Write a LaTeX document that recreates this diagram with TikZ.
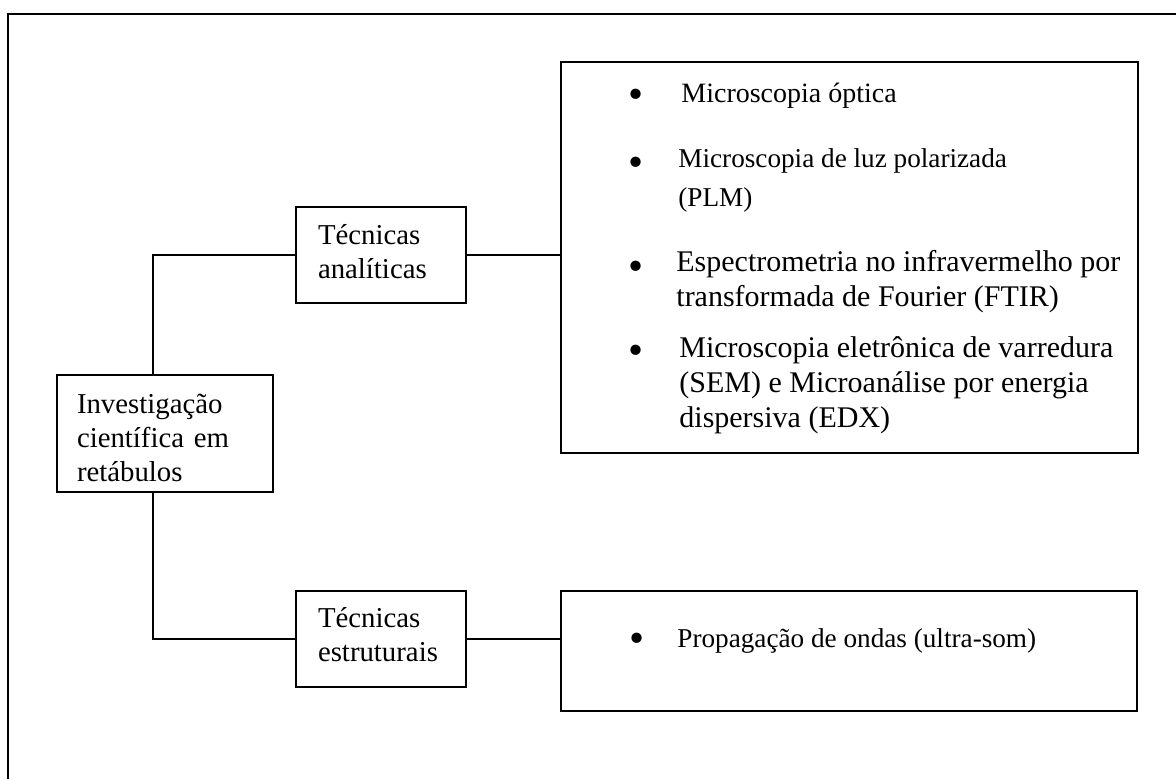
\documentclass[tikz,border=0pt]{standalone}
\usepackage{fontspec}
\setmainfont{Liberation Serif}
\usetikzlibrary{positioning,calc}

\tikzset{
  box/.style={draw,line width=1pt,inner sep=0pt},
  boxtxt/.style={box,align=left,inner ysep=0pt,font=\fontsize{14.4}{17}\selectfont},
  itm/.style={align=left,inner sep=0pt,anchor=base west,font=\fontsize{13.6}{19.5}\selectfont},
  itmbig/.style={itm,font=\fontsize{15}{17.5}\selectfont},
  dot/.style={inner sep=0pt,anchor=base,font=\fontsize{21.5}{22}\selectfont},
  wire/.style={line width=1pt}
}

\begin{document}
\begin{tikzpicture}[x=0.5pt,y=-0.5pt]
\useasboundingbox (0,0) rectangle (1176,779);
\clip (0,0) rectangle (1176,779);
\draw[line width=1.3pt] (8,820) |- (1220,14);

\node[boxtxt,inner xsep=10pt,text width=88pt,text height=14pt,minimum width=108pt,minimum height=58.5pt] (inv) at (165,433.5) {Investigação\\científica em\\retábulos};
\node[boxtxt,inner xsep=11pt,text width=63pt,text height=7pt,minimum width=85pt,minimum height=48pt] (tana) at (381,255) {Técnicas\\analíticas};
\node[boxtxt,inner xsep=11pt,text width=63pt,text height=6pt,minimum width=85pt,minimum height=48pt] (test) at (381,639) {Técnicas\\estruturais};
\node[box,minimum width=288.5pt,minimum height=195.5pt] (big) at (849.5,257.5) {};
\node[box,minimum width=288pt,minimum height=60pt] (prop) at (849,651) {};

\draw[wire] (tana.east) -- (tana.east -| big.west);
\draw[wire] (tana.west) -| ([xshift=-6.25pt]inv.north);
\draw[wire] (test.west) -| ([xshift=-6.25pt]inv.south);
\draw[wire] (test.east) -- (test.east -| prop.west);

% lista das tecnicas (base = ultima linha)
\node[dot] (b1) at (636,109) {\textbullet};
\node[itm,font=\fontsize{14}{19.5}\selectfont] (i1) at (681,103) {Microscopia óptica};
\node[dot] (b2) at (636,177) {\textbullet};
\node[itm] (i2) at (678,207) {Microscopia de luz polarizada\\(PLM)};
\node[dot] (b3) at (636,281) {\textbullet};
\node[itmbig] (i3) at (676,307) {Espectrometria no infravermelho por\\transformada de Fourier (FTIR)};
\node[dot] (b4) at (636,365) {\textbullet};
\node[itmbig] (i4) at (679,428) {Microscopia eletrônica de varredura\\(SEM) e Microanálise por energia\\dispersiva (EDX)};
\node[dot] (b5) at (637,652) {\textbullet};
\node[itm] (i5) at (677,647) {Propagação de ondas (ultra-som)};
\end{tikzpicture}
\end{document}
